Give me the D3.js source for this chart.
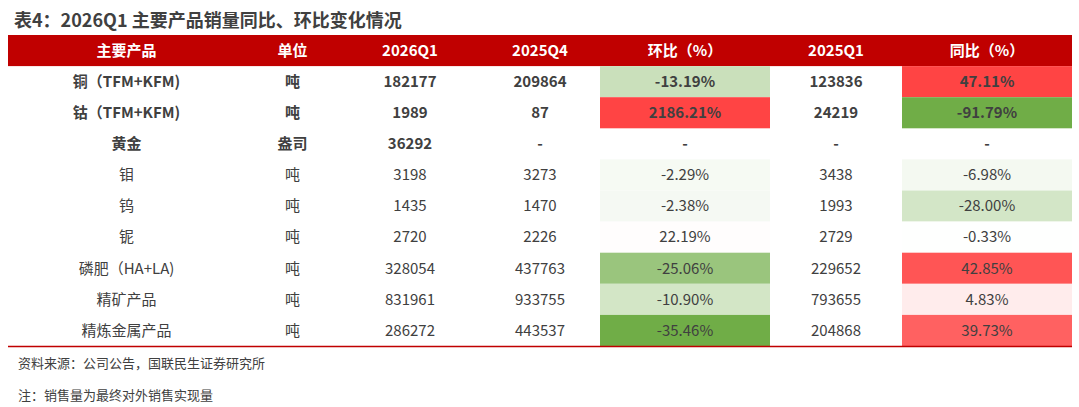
<!DOCTYPE html><html><head><meta charset="utf-8">
<script src="https://cdn.jsdelivr.net/npm/d3@7"></script>
<style>body{margin:0;background:#fff}text{font-family:"Noto Sans CJK SC","Noto Sans",sans-serif}</style></head><body>
<svg id="c" width="1079" height="407"></svg>
<script>
const headers=["主要产品","单位","2026Q1","2025Q4","环比（%）","2025Q1","同比（%）"];
const products=["铜（TFM+KFM)","钴（TFM+KFM)","黄金","钼","钨","铌","磷肥（HA+LA)","精矿产品","精炼金属产品"];
const units=["吨","吨","盎司","吨","吨","吨","吨","吨","吨"];
const q2026=["182177","1989","36292","3198","1435","2720","328054","831961","286272"];
const q2025q4=["209864","87","-","3273","1470","2226","437763","933755","443537"];
const qoq=[-13.19,2186.21,null,-2.29,-2.38,22.19,-25.06,-10.90,-35.46];
const q2025q1=["123836","24219","-","3438","1993","2729","229652","793655","204868"];
const yoy=[47.11,-91.79,null,-6.98,-28.00,-0.33,42.85,4.83,39.73];
const boldRows=3;

const svg=d3.select("#c");
const T="#404040";
svg.append("text").attr("x",14).attr("y",27).attr("font-size",18).attr("font-weight","bold").attr("fill",T).text("表4：2026Q1 主要产品销量同比、环比变化情况");
const edges=[8,245,340,480,600,770,902,1072];
const x=d3.scaleOrdinal().domain(d3.range(7)).range(d3.range(7).map(i=>(edges[i]+edges[i+1])/2));
const y=d3.scaleBand().domain(d3.range(10)).range([35,346]);
svg.append("rect").attr("x",8).attr("y",y(0)).attr("width",1064).attr("height",y.bandwidth()).attr("fill","#c00000");
headers.forEach((h,i)=>svg.append("text").attr("x",x(i)).attr("y",y(0)+y.bandwidth()/2).attr("dy","0.35em").attr("text-anchor","middle").attr("font-size",15).attr("font-weight","bold").attr("fill","#fff").text(h));
function colorScale(vals){
  const v=vals.filter(d=>d!=null);
  const mn=d3.min(v),mx=d3.max(v);
  const g=d3.scaleLinear().domain([mn,0]).range(["#70ad47","#ffffff"]).clamp(true);
  const r=d3.scaleLinear().domain([0,mx]).range(["#ffffff","#ff4444"]).clamp(true);
  return d=>d==null?null:(d<0?g(d):r(d));
}
const cq=colorScale(qoq),cy=colorScale(yoy);
const fmt=d=>d==null?"-":d.toFixed(2)+"%";
products.forEach((p,r)=>{
  const yy=y(r+1),h=y.bandwidth();
  [[4,cq(qoq[r])],[6,cy(yoy[r])]].forEach(([c,col])=>{ if(col) svg.append("rect").attr("x",edges[c]).attr("y",yy).attr("width",edges[c+1]-edges[c]).attr("height",h).attr("fill",col);});
  const cells=[p,units[r],q2026[r],q2025q4[r],fmt(qoq[r]),q2025q1[r],fmt(yoy[r])];
  cells.forEach((t,c)=>svg.append("text").attr("x",x(c)).attr("y",yy+h/2).attr("dy","0.35em").attr("text-anchor","middle").attr("font-size",15).attr("font-weight",r<boldRows?"bold":"normal").attr("fill",T).text(t));
});
svg.append("line").attr("x1",8).attr("x2",1072).attr("y1",346.5).attr("y2",346.5).attr("stroke","#c00000").attr("stroke-width",1.5);
svg.append("text").attr("x",18).attr("y",368).attr("font-size",13).attr("fill",T).text("资料来源：公司公告，国联民生证券研究所");
svg.append("text").attr("x",18).attr("y",400).attr("font-size",13).attr("fill",T).text("注：销售量为最终对外销售实现量");
</script></body></html>
